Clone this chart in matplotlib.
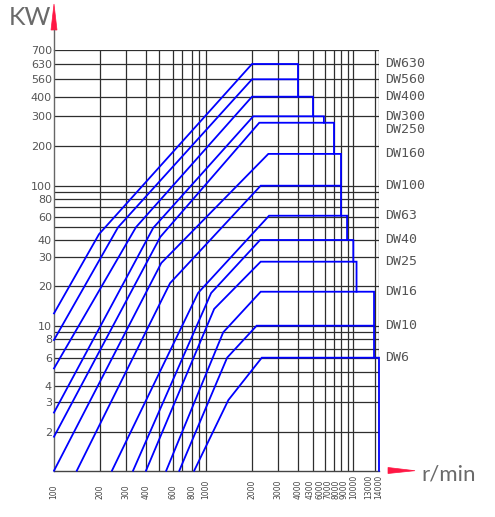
import numpy as np
import matplotlib
matplotlib.use("Agg")
import matplotlib.pyplot as plt
import matplotlib.transforms as mtransforms
from matplotlib.patches import Polygon

# ---------------- data ----------------
models = ["DW630", "DW560", "DW400", "DW300", "DW250", "DW160", "DW100",
          "DW63", "DW40", "DW25", "DW16", "DW10", "DW6"]

speed = {
    "DW630": [100, 197, 2000, 4000, 4000],
    "DW560": [100, 265, 2000, 4000, 4000],
    "DW400": [100, 346, 2000, 5000, 5000],
    "DW300": [100, 451, 2040, 5900, 5900],
    "DW250": [100, 507, 2240, 7000, 7000],
    "DW160": [100, 514, 2580, 8000, 8000],
    "DW100": [141, 580, 2290, 8000, 8000],
    "DW63":  [241, 885, 2610, 8900, 8900],
    "DW40":  [332, 1085, 2270, 10000, 10000],
    "DW25":  [400, 1135, 2290, 10400, 10400],
    "DW16":  [550, 1300, 2290, 12850, 12850],
    "DW10":  [670, 1378, 2150, 12850],
    "DW6":   [827, 1404, 2330, 14000, 14000],
}
power = {
    "DW630": [12.4, 44.3, 630, 630, 560],
    "DW560": [7.9, 50, 560, 560, 400],
    "DW400": [5.25, 50, 400, 400, 300],
    "DW300": [2.59, 49.4, 300, 300, 275],
    "DW250": [1.83, 42.2, 275, 275, 175],
    "DW160": [1, 27.5, 175, 175, 100],
    "DW100": [1, 20.8, 100, 100, 61.4],
    "DW63":  [1, 17.7, 61.4, 61.4, 40],
    "DW40":  [1, 17.7, 40, 40, 28],
    "DW25":  [1, 13.4, 28, 28, 18.1],
    "DW16":  [1, 9.0, 18.1, 18.1, 6],
    "DW10":  [1, 6.0, 10, 10],
    "DW6":   [1, 3.09, 6, 6, 1],
}
label_power = [630, 560, 400, 300, 250, 175, 100, 61.4, 40, 28, 18.1, 10, 6]

x_grid = [100, 200, 300, 400, 500, 600, 700, 800, 900, 1000, 2000, 3000,
          4000, 5000, 6000, 7000, 8000, 9000, 10000, 13000, 14000]
x_tick_values = [100, 200, 300, 400, 600, 800, 1000, 2000, 3000, 4000, 5000,
                 6000, 7000, 8000, 9000, 10000, 13000, 14000]
x_tick_labels = ["100", "200", "300", "400", "600", "800", "1000", "2000",
                 "3000", "4000", "4300", "6000", "7000", "8000", "9000",
                 "10000", "13000", "14000"]
y_grid = [1, 2, 3, 4, 5, 6, 7, 8, 9, 10, 20, 30, 40, 50, 60, 70, 80, 90,
          100, 200, 300, 400, 560, 630, 700]
y_tick_values = [700, 630, 560, 400, 300, 200, 100, 80, 60, 40, 30, 20, 10,
                 8, 6, 4, 3, 2]
y_tick_labels = [str(v) for v in y_tick_values]

# ------------- hand-drawn (quasi-log) axis scales -------------
x_scale_vals = np.array(x_grid, float)
x_scale_pos = np.array([0, 46, 72, 92, 105.3, 118.5, 128, 138.3, 145, 151.7,
                        198, 224, 244, 259, 271, 280, 287, 293.7, 299.3,
                        321, 325], float)
y_scale_vals = np.array(y_grid, float)
y_scale_pos = 470.7 - np.array([470.7, 431.7, 401.7, 385.7, 372.3, 357.7, 349,
                                339, 332.3, 325.7, 286, 256.7, 240, 227.3,
                                217.3, 206.7, 199.3, 192, 185.7, 146.3, 116.3,
                                96.7, 79.3, 64, 50], float)


def make_scale(vals, pos):
    lv = np.log10(vals)
    slope_lo = (pos[1] - pos[0]) / (lv[1] - lv[0])
    slope_hi = (pos[-1] - pos[-2]) / (lv[-1] - lv[-2])

    def fwd(v):
        v = np.asarray(v, float)
        with np.errstate(all="ignore"):
            l = np.log10(np.clip(v, 1e-12, None))
        out = np.interp(l, lv, pos)
        out = np.where(l < lv[0], pos[0] + (l - lv[0]) * slope_lo, out)
        out = np.where(l > lv[-1], pos[-1] + (l - lv[-1]) * slope_hi, out)
        return out

    def inv(p):
        p = np.asarray(p, float)
        l = np.interp(p, pos, lv)
        l = np.where(p < pos[0], lv[0] + (p - pos[0]) / slope_lo, l)
        l = np.where(p > pos[-1], lv[-1] + (p - pos[-1]) / slope_hi, l)
        return 10 ** l

    return fwd, inv


fx, ix = make_scale(x_scale_vals, x_scale_pos)
fy, iy = make_scale(y_scale_vals, y_scale_pos)

# ---------------- figure ----------------
W, H = 495, 517
fig = plt.figure(figsize=(W / 100, H / 100), dpi=100)
AXW, AXH = 325, 420.7
ax = fig.add_axes([54 / W, (H - 470.7) / H, AXW / W, AXH / H])
ax.set_xscale("function", functions=(fx, ix))
ax.set_yscale("function", functions=(fy, iy))
ax.set_xlim(100, 14000)
ax.set_ylim(1, 700)

grid_c = "#2e2e2e"
for v in x_grid[1:]:
    ax.axvline(v, color=grid_c, lw=0.9, zorder=1)
for v in y_grid[1:]:
    ax.axhline(v, color=grid_c, lw=0.9, zorder=1)

for s in ["top", "right"]:
    ax.spines[s].set_visible(False)
ax.spines["left"].set_color("#666666")
ax.spines["bottom"].set_color("#444444")
ax.spines["left"].set_linewidth(1.0)
ax.spines["bottom"].set_linewidth(1.0)

ax.set_yticks(y_tick_values)
ax.set_yticklabels(y_tick_labels)
ax.set_xticks([])
ax.tick_params(axis="y", length=0, pad=1.5, labelsize=8, labelcolor="#555555")
ax.minorticks_off()

# x tick labels (rotated); crowded ones nudged apart a few pixels like the original
nudge_px = {5000: -3, 6000: -5, 7000: -6, 8000: -5, 9000: -3.5, 10000: 0,
            13000: -6, 14000: 0}
for v, lab in zip(x_tick_values, x_tick_labels):
    off = mtransforms.ScaledTranslation(nudge_px.get(v, 0) / 100, 0,
                                        fig.dpi_scale_trans)
    ax.text(v, -(499 - 470.7) / AXH, lab,
            transform=ax.get_xaxis_transform() + off, rotation=90,
            ha="center", va="bottom", fontsize=5.5, color="#444444")

# curves
for m in models:
    ax.plot(speed[m], power[m], color="#0000FF", lw=1.3, zorder=3,
            solid_joinstyle="miter", clip_on=False)

# model labels
yt = mtransforms.blended_transform_factory(ax.transAxes, ax.transData)
for m, yv in zip(models, label_power):
    ax.text(1 + 6 / AXW, yv, m, transform=yt, ha="left", va="center",
            fontsize=9.5, family="DejaVu Sans Mono", color="#555555")

# axis extension and arrows
red = "#FF1744"


def fp(x, y):
    return (x / W, 1 - y / H)


fig.add_artist(plt.Line2D([54 / W, 54 / W], [1 - 50 / H, 1 - 30 / H],
                          color="#666666", lw=1.0, transform=fig.transFigure))
fig.add_artist(Polygon([fp(51, 30), fp(57, 30), fp(54, 4)], closed=True,
                       facecolor=red, edgecolor=red, lw=0.5,
                       transform=fig.transFigure))
fig.add_artist(Polygon([fp(388, 467.5), fp(388, 473.5), fp(415, 470.7)],
                       closed=True, facecolor=red, edgecolor=red, lw=0.5,
                       transform=fig.transFigure))

fig.text(9 / W, 1 - 25 / H, "KW", fontsize=18, color="#6a6a6a",
         family="Lato", ha="left", va="baseline")
fig.text(421 / W, 1 - 480.7 / H, "r/min", fontsize=16, color="#6a6a6a",
         family="Lato", ha="left", va="baseline")

fig.savefig("out.png", dpi=100)
